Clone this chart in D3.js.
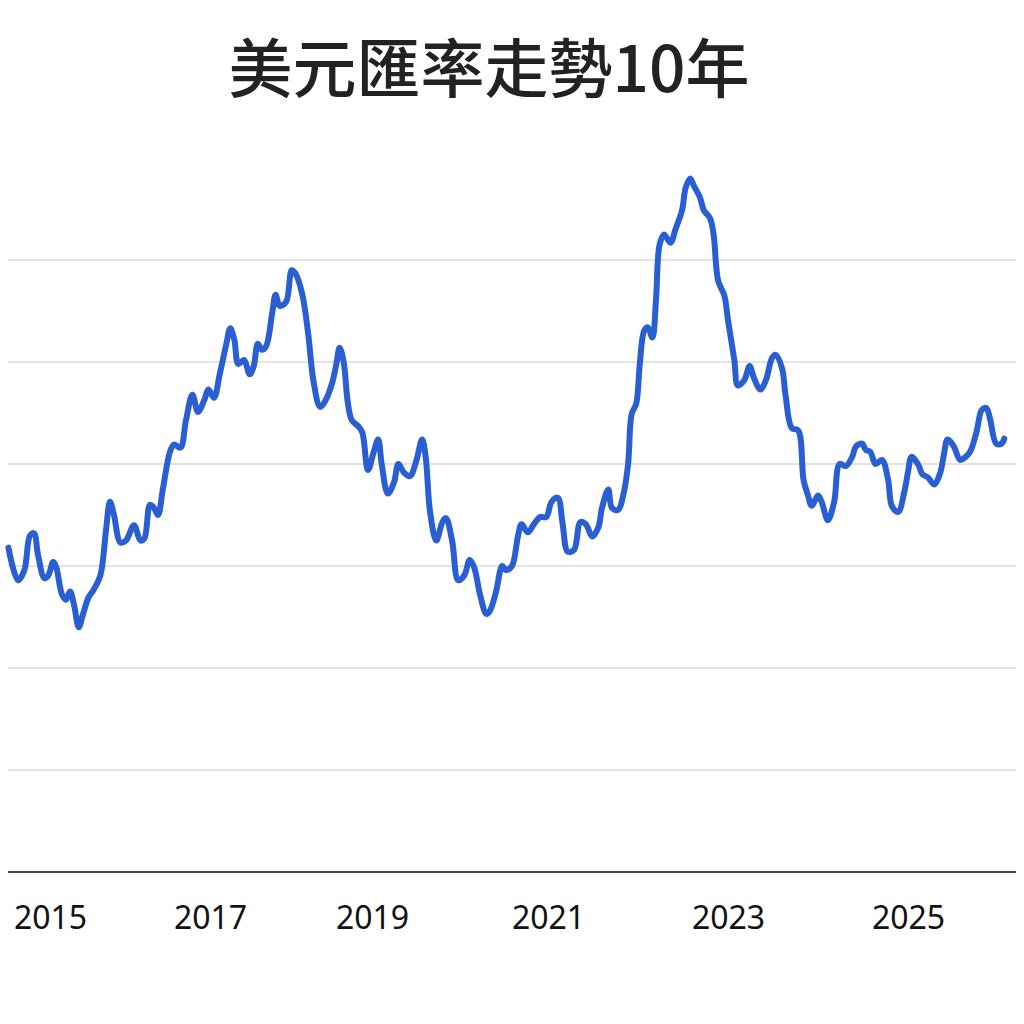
<!DOCTYPE html>
<html>
<head>
<meta charset="utf-8">
<script src="https://cdn.jsdelivr.net/npm/d3@7"></script>
<style>
  body { margin: 0; background: #fff; }
</style>
</head>
<body>
<svg id="chart" width="1024" height="1024"></svg>
<script>
const title = "美元匯率走勢10年";
const tickYears = [2015, 2017, 2019, 2021, 2023, 2025];
const gridLevels = [1, 2, 3, 4, 5, 6];

// 年份(小數) 與 匯率指數
const years = [
  2014.48, 2014.60, 2014.68, 2014.75, 2014.80, 2014.85, 2014.93, 2014.98, 2015.04, 2015.08,
  2015.15, 2015.20, 2015.25, 2015.30, 2015.36, 2015.41, 2015.48, 2015.54, 2015.63, 2015.70,
  2015.75, 2015.80, 2015.88, 2015.95, 2016.05, 2016.13, 2016.18, 2016.25, 2016.30, 2016.35,
  2016.41, 2016.50, 2016.55, 2016.63, 2016.70, 2016.78, 2016.85, 2016.93, 2016.98, 2017.05,
  2017.12, 2017.20, 2017.25, 2017.30, 2017.35, 2017.42, 2017.49, 2017.54, 2017.59, 2017.64,
  2017.69, 2017.77, 2017.81, 2017.86, 2017.94, 2018.01, 2018.06, 2018.14, 2018.21, 2018.28,
  2018.36, 2018.43, 2018.51, 2018.56, 2018.60, 2018.65, 2018.70, 2018.75, 2018.83, 2018.88,
  2018.95, 2019.02, 2019.07, 2019.11, 2019.18, 2019.25, 2019.30, 2019.36, 2019.43, 2019.50,
  2019.57, 2019.61, 2019.66, 2019.73, 2019.80, 2019.84, 2019.91, 2019.98, 2020.05, 2020.11,
  2020.16, 2020.23, 2020.30, 2020.34, 2020.41, 2020.48, 2020.52, 2020.59, 2020.66, 2020.70,
  2020.77, 2020.84, 2020.91, 2020.98, 2021.04, 2021.11, 2021.16, 2021.22, 2021.29, 2021.36,
  2021.42, 2021.49, 2021.56, 2021.60, 2021.67, 2021.71, 2021.78, 2021.84, 2021.89, 2021.93,
  2021.98, 2022.02, 2022.07, 2022.11, 2022.16, 2022.20, 2022.24, 2022.29, 2022.36, 2022.42,
  2022.49, 2022.53, 2022.58, 2022.62, 2022.69, 2022.73, 2022.80, 2022.84, 2022.89, 2022.96,
  2023.00, 2023.07, 2023.11, 2023.18, 2023.24, 2023.29, 2023.36, 2023.42, 2023.49, 2023.53,
  2023.60, 2023.64, 2023.71, 2023.78, 2023.84, 2023.89, 2023.93, 2024.00, 2024.04, 2024.11,
  2024.18, 2024.24, 2024.31, 2024.38, 2024.42, 2024.49, 2024.53, 2024.58, 2024.64, 2024.71,
  2024.78, 2024.82, 2024.89, 2024.96, 2025.00, 2025.04, 2025.11, 2025.16, 2025.22, 2025.29,
  2025.36, 2025.40, 2025.44, 2025.51, 2025.58, 2025.64, 2025.69, 2025.76, 2025.82, 2025.87,
  2025.91, 2025.98, 2026.04, 2026.07
];
const values = [
  3.18, 2.86, 2.96, 3.30, 3.32, 3.11, 2.88, 2.91, 3.04, 2.98,
  2.72, 2.67, 2.75, 2.62, 2.40, 2.52, 2.69, 2.76, 2.91, 3.35,
  3.63, 3.50, 3.23, 3.25, 3.40, 3.25, 3.27, 3.60, 3.57, 3.50,
  3.75, 4.12, 4.19, 4.16, 4.43, 4.68, 4.51, 4.63, 4.73, 4.65,
  4.88, 5.17, 5.33, 5.22, 4.98, 5.02, 4.88, 4.96, 5.18, 5.12,
  5.15, 5.49, 5.66, 5.55, 5.59, 5.90, 5.86, 5.66, 5.29, 4.80,
  4.56, 4.63, 4.80, 4.98, 5.14, 5.00, 4.61, 4.43, 4.37, 4.31,
  3.94, 4.12, 4.24, 4.00, 3.71, 3.82, 4.00, 3.92, 3.88, 4.02,
  4.24, 4.07, 3.53, 3.25, 3.43, 3.47, 3.25, 2.86, 2.91, 3.06,
  2.99, 2.71, 2.53, 2.56, 2.75, 3.00, 2.96, 3.00, 3.30, 3.41,
  3.33, 3.41, 3.48, 3.48, 3.63, 3.67, 3.43, 3.14, 3.16, 3.43,
  3.41, 3.29, 3.38, 3.57, 3.75, 3.57, 3.55, 3.71, 4.00, 4.49,
  4.59, 4.98, 5.31, 5.34, 5.24, 5.61, 6.15, 6.25, 6.17, 6.31,
  6.49, 6.71, 6.80, 6.73, 6.61, 6.49, 6.41, 6.25, 5.80, 5.65,
  5.41, 5.02, 4.77, 4.82, 4.96, 4.84, 4.73, 4.82, 5.04, 5.07,
  4.94, 4.67, 4.35, 4.33, 3.84, 3.69, 3.59, 3.69, 3.63, 3.45,
  3.63, 4.00, 3.98, 4.07, 4.17, 4.20, 4.14, 4.12, 4.00, 4.04,
  3.84, 3.59, 3.53, 3.73, 3.92, 4.07, 4.00, 3.90, 3.87, 3.80,
  3.92, 4.10, 4.24, 4.17, 4.04, 4.07, 4.12, 4.31, 4.53, 4.55,
  4.45, 4.20, 4.20, 4.25
];

const svg = d3.select("#chart");
const left = 8, right = 1016, bottom = 872;

// 年份刻度間距不均,用分段線性比例尺
const xScale = d3.scaleLinear().domain(tickYears).range([50, 210, 372, 548, 728, 908]);
const yScale = d3.scaleLinear().domain([0, 7]).range([bottom, 158]);

// 標題
svg.append("text")
  .attr("x", 489)
  .attr("y", 92)
  .attr("text-anchor", "middle")
  .attr("font-family", "'Noto Sans CJK TC', 'Noto Sans', sans-serif")
  .attr("font-weight", 500)
  .attr("font-size", "64px")
  .attr("fill", "#222")
  .text(title);

// 格線
svg.selectAll(".grid")
  .data(gridLevels)
  .enter()
  .append("line")
  .attr("x1", left)
  .attr("x2", right)
  .attr("y1", (d) => yScale(d))
  .attr("y2", (d) => yScale(d))
  .attr("stroke", "#c8c8c8")
  .attr("stroke-width", 1.2);

// x軸
const xAxis = svg.append("g")
  .attr("transform", "translate(0," + bottom + ")")
  .call(d3.axisBottom(xScale).tickValues(tickYears).tickFormat(d3.format("d")).tickSize(0).tickPadding(34));
xAxis.select(".domain").remove();
xAxis.append("line")
  .attr("x1", left).attr("x2", right)
  .attr("stroke", "#111").attr("stroke-width", 1.5);
xAxis.selectAll("text")
  .attr("font-family", "'Noto Sans', sans-serif")
  .attr("font-size", "32px")
  .attr("fill", "#111");

// 折線
const data = years.map((y, i) => ({ year: y, value: values[i] }));
const line = d3.line()
  .x((d) => xScale(d.year))
  .y((d) => yScale(d.value))
  .curve(d3.curveCatmullRom);

svg.append("path")
  .datum(data)
  .attr("fill", "none")
  .attr("stroke", "#2a5fd3")
  .attr("stroke-width", 6)
  .attr("stroke-linejoin", "round")
  .attr("stroke-linecap", "round")
  .attr("d", line);
</script>
</body>
</html>
